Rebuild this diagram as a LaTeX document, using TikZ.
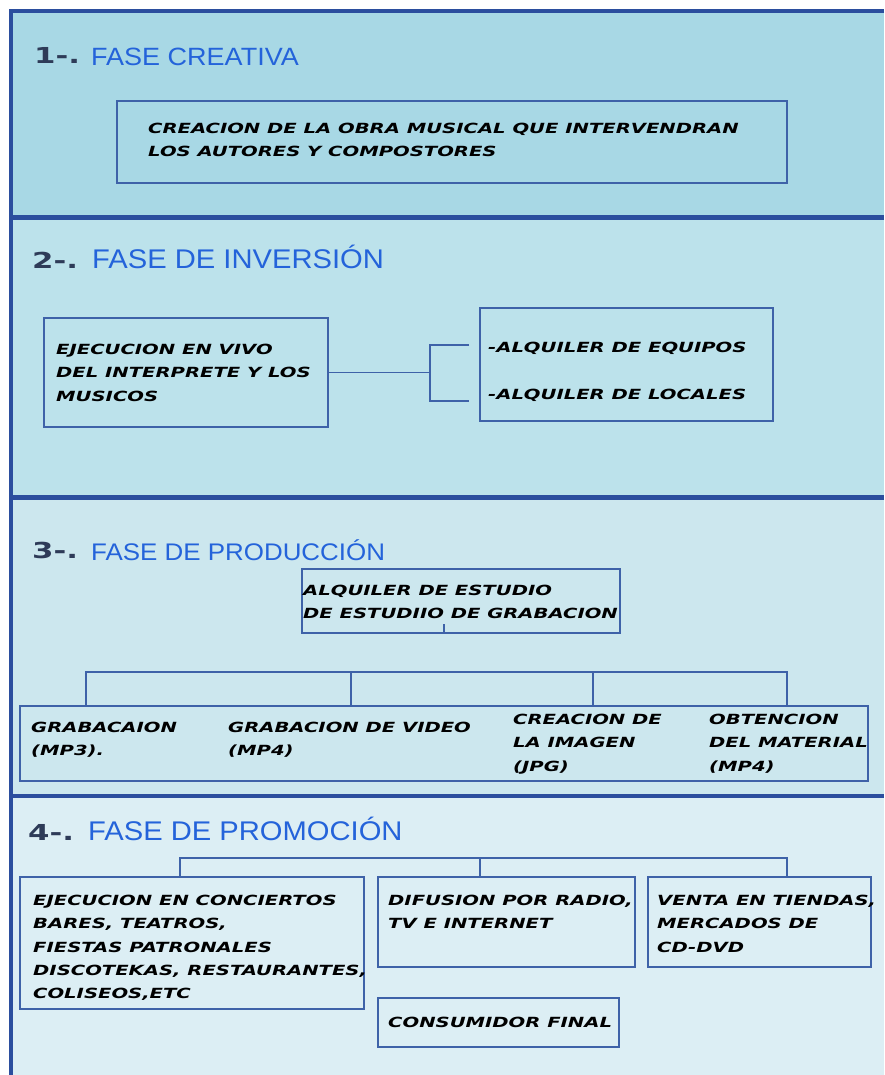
\documentclass[tikz,border=0pt]{standalone}
\usepackage{fontspec}
\usepackage{xcolor}
\setmainfont{Liberation Sans}
\newfontfamily\comicfont[FakeStretch=1.4]{DejaVu Sans}
\newfontfamily\titlefont[FakeStretch=1.08]{Liberation Sans}
\definecolor{frame-blue}{HTML}{2B4E9E}
\definecolor{box-blue}{HTML}{3E62A8}
\definecolor{title-blue}{HTML}{2463DA}
\definecolor{number-navy}{HTML}{2E3B58}
\definecolor{fase-one}{HTML}{A8D8E5}
\definecolor{fase-two}{HTML}{BCE2EB}
\definecolor{fase-three}{HTML}{CCE7EE}
\definecolor{fase-four}{HTML}{DCEEF4}
\tikzset{
  caja/.style={draw=box-blue, line width=1.4pt, rectangle, inner sep=0pt},
  texto/.style={font=\comicfont\bfseries\itshape\fontsize{14}{23.3}\selectfont,
                align=left, inner sep=0pt, anchor=north west},
  titulo/.style={font=\titlefont\fontsize{#1}{#1}\selectfont, text=title-blue,
                 anchor=base west, inner sep=0pt},
  titulo/.default=25,
  numero/.style={font=\comicfont\bfseries\fontsize{22}{22}\selectfont,
                 text=number-navy, anchor=base west, inner sep=0pt},
  linea/.style={draw=box-blue, line width=1.4pt},
  marco/.style={draw=frame-blue, line width=4.5pt}
}
\begin{document}
\begin{tikzpicture}[x=1pt, y=-1pt, line join=miter]
    \useasboundingbox (0,0) rectangle (884,1075);
    % fondos de las cuatro fases
    \fill[fase-one] (11,11) rectangle (884,217.5);
    \fill[fase-two] (11,217.5) rectangle (884,497.5);
    \fill[fase-three] (11,497.5) rectangle (884,796);
    \fill[fase-four] (11,796) rectangle (884,1075);
    \draw[marco] (884,11) -- (11,11) -- (11,1075);
    \draw[marco] (11,217.5) -- (884,217.5);
    \draw[marco] (11,497.5) -- (884,497.5);
    \draw[marco] (11,796) -- (884,796);

    % 1 - fase creativa
    \node[numero] (num1) at (34,64) {1-.};
    \node[titulo] (fase1) at (91,66) {FASE CREATIVA};
    \node[caja, minimum width=670pt, minimum height=82pt] (creacion) at (452,142) {};
    \node[texto] (creaciontxt) at (148,123)
      {CREACION DE LA OBRA MUSICAL QUE INTERVENDRAN\\LOS AUTORES Y COMPOSTORES};

    % 2 - fase de inversion
    \node[numero] (num2) at (32,268) {2-.};
    \node[titulo=27] (fase2) at (92,269) {FASE DE INVERSIÓN};
    \node[caja, minimum width=284pt, minimum height=109pt] (ejecucion) at (186,372.5) {};
    \node[texto] (ejecuciontxt) at (56,344)
      {EJECUCION EN VIVO\\DEL INTERPRETE Y LOS\\MUSICOS};
    \node[caja, minimum width=293pt, minimum height=113pt] (alquiler) at (626.5,364.5) {};
    \node[texto] (equipos) at (488,342) {-ALQUILER DE EQUIPOS};
    \node[texto] (locales) at (488,389) {-ALQUILER DE LOCALES};
    \coordinate (rama1) at (469,345);
    \coordinate (rama2) at (469,401);
    \draw[linea] (ejecucion.east) -- ++(102,0);
    \draw[linea] (rama1) -- ++(-39,0) |- (rama2);

    % 3 - fase de produccion
    \node[numero] (num3) at (32,558) {3-.};
    \node[titulo=24] (fase3) at (91,560) {FASE DE PRODUCCIÓN};
    \node[caja, minimum width=318pt, minimum height=64pt] (estudio) at (461,601) {};
    \node[texto] (estudiotxt) at (303,585)
      {ALQUILER DE ESTUDIO\\DE ESTUDIIO DE GRABACION};
    \draw[linea] ([xshift=-17pt]estudio.south) -- ++(0,-10);
    \node[caja, minimum width=848pt, minimum height=75pt] (grabacion) at (444,743.5) {};
    \node[texto] (mp3) at (31,722) {GRABACAION\\(MP3).};
    \node[texto] (video) at (228,722) {GRABACION DE VIDEO\\(MP4)};
    \node[texto] (imagen) at (513,714) {CREACION DE\\LA IMAGEN\\(JPG)};
    \node[texto] (material) at (709,714) {OBTENCION\\DEL MATERIAL\\(MP4)};
    \foreach \x [count=\i] in {86,351,593,787}
      \coordinate (bus\i) at (\x,672);
    \draw[linea] (bus1 |- grabacion.north) -- (bus1) -- (bus4) -- (bus4 |- grabacion.north);
    \foreach \i in {2,3}
      \draw[linea] (bus\i) -- (bus\i |- grabacion.north);

    % 4 - fase de promocion
    \node[numero] (num4) at (28,840) {4-.};
    \node[titulo=27] (fase4) at (88,840) {FASE DE PROMOCIÓN};
    \node[caja, minimum width=344pt, minimum height=132pt] (conciertos) at (192,943) {};
    \node[texto] (conciertostxt) at (33,895)
      {EJECUCION EN CONCIERTOS\\BARES, TEATROS,\\FIESTAS PATRONALES\\DISCOTEKAS, RESTAURANTES,\\COLISEOS,ETC};
    \node[caja, minimum width=257pt, minimum height=90pt] (difusion) at (506.5,922) {};
    \node[texto] (difusiontxt) at (388,895) {DIFUSION POR RADIO,\\TV E INTERNET};
    \node[caja, minimum width=223pt, minimum height=90pt] (venta) at (759.5,922) {};
    \node[texto] (ventatxt) at (657,895) {VENTA EN TIENDAS,\\MERCADOS DE\\CD-DVD};
    \node[caja, minimum width=241pt, minimum height=49pt] (consumidor) at (498.5,1022.5) {};
    \node[texto] (consumidortxt) at (388,1017) {CONSUMIDOR FINAL};
    \coordinate (prom1) at (180,858);
    \coordinate (prom2) at (480,858);
    \coordinate (prom3) at (787,858);
    \draw[linea] (prom1 |- conciertos.north) -- (prom1) -- (prom3) -- (prom3 |- venta.north);
    \draw[linea] (prom2) -- (prom2 |- difusion.north);
\end{tikzpicture}
\end{document}
